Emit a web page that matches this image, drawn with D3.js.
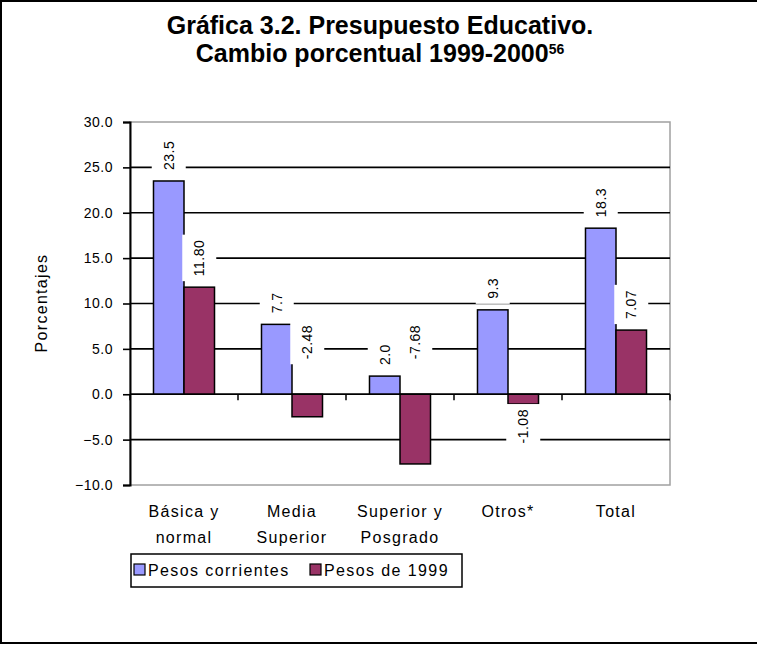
<!DOCTYPE html>
<html>
<head>
<meta charset="utf-8">
<script src="https://cdn.jsdelivr.net/npm/d3@7"></script>
<style>
  body { margin: 0; background: #fff; }
  svg { display: block; }
  text { font-family: "Liberation Sans", Arial, sans-serif; fill: #000; }
</style>
</head>
<body>
<div id="chart"></div>
<script>
// Chart data
var categories = [["Básica y", "normal"], ["Media", "Superior"], ["Superior y", "Posgrado"], ["Otros*"], ["Total"]];
var seriesNames = ["Pesos corrientes", "Pesos de 1999"];
var pesosCorrientes = [23.5, 7.7, 2.0, 9.3, 18.3];
var pesos1999 = [11.80, -2.48, -7.68, -1.08, 7.07];
var labelsCorrientes = ["23.5", "7.7", "2.0", "9.3", "18.3"];
var labels1999 = ["11.80", "-2.48", "-7.68", "-1.08", "7.07"];
var yTicks = [-10, -5, 0, 5, 10, 15, 20, 25, 30];

// Where the value labels sit: "out" = past the bar end, "up" = above the zero line
var placeCorrientes = ["out", "out", "out", "out", "out"];
var place1999 = ["out", "up", "up", "out", "out"];

var colors = ["#9999ff", "#993366"];

var W = 757, H = 645;
var plot = { left: 130, right: 670, top: 122, bottom: 485 };

var svg = d3.select("#chart").append("svg")
	.attr("width", W)
	.attr("height", H);

// Outer frame
svg.append("rect")
	.attr("x", 1).attr("y", 1)
	.attr("width", W + 10).attr("height", 642)
	.attr("fill", "none")
	.attr("stroke", "#000")
	.attr("stroke-width", 2);

// Title
var title = svg.append("text")
	.attr("text-anchor", "middle")
	.style("font-weight", "bold")
	.style("font-size", "25px");
title.append("tspan").attr("x", 380).attr("y", 34).text("Gráfica 3.2. Presupuesto Educativo.");
title.append("tspan").attr("x", 380).attr("y", 62).text("Cambio porcentual 1999-2000");
title.append("tspan").attr("dy", -8).style("font-size", "14px").text("56");

// Scales
var x0 = d3.scaleBand()
	.domain(d3.range(categories.length))
	.range([plot.left, plot.right])
	.paddingInner(0.435)
	.paddingOuter(0.2175);

var x1 = d3.scaleBand()
	.domain([0, 1])
	.range([0, x0.bandwidth()]);

var y = d3.scaleLinear()
	.domain([-10, 30])
	.range([plot.bottom, plot.top]);

// Plot frame (grey)
svg.append("rect")
	.attr("x", plot.left).attr("y", plot.top)
	.attr("width", plot.right - plot.left)
	.attr("height", plot.bottom - plot.top)
	.attr("fill", "none")
	.attr("stroke", "#a0a0a0")
	.attr("stroke-width", 1.5);

// Gridlines
svg.append("g")
	.selectAll("line")
	.data(yTicks.filter(function(d) { return d > -10 && d < 30; }))
	.enter().append("line")
		.attr("x1", plot.left).attr("x2", plot.right)
		.attr("y1", function(d) { return y(d); })
		.attr("y2", function(d) { return y(d); })
		.attr("stroke", "#000")
		.attr("stroke-width", 1.6);

// Y axis
var yAxis = svg.append("g")
	.attr("transform", "translate(" + plot.left + ",0)")
	.call(d3.axisLeft(y).tickValues(yTicks).tickSize(7).tickPadding(10)
		.tickFormat(d3.format(".1f")));
yAxis.select(".domain").attr("stroke", "#000").attr("stroke-width", 2);
yAxis.selectAll(".tick line").attr("stroke", "#000").attr("stroke-width", 1.6);
yAxis.selectAll("text")
	.attr("font-family", null)
	.attr("font-size", null)
	.style("font-size", "14px")
	.style("letter-spacing", "0.5px")
	.attr("fill", "#000");

// Y axis title
svg.append("text")
	.attr("transform", "translate(47,303) rotate(-90)")
	.attr("text-anchor", "middle")
	.style("font-size", "16px")
	.style("letter-spacing", "1.3px")
	.text("Porcentajes");

// Category ticks on zero line
svg.append("g")
	.selectAll("line")
	.data(d3.range(categories.length + 1))
	.enter().append("line")
		.attr("x1", function(i) { return plot.left + i * x0.step(); })
		.attr("x2", function(i) { return plot.left + i * x0.step(); })
		.attr("y1", y(0)).attr("y2", y(0) + 6)
		.attr("stroke", "#000")
		.attr("stroke-width", 1.5);

// Bars
var series = [pesosCorrientes, pesos1999];
var labels = [labelsCorrientes, labels1999];
var places = [placeCorrientes, place1999];

var barData = [];
series.forEach(function(vals, s) {
	vals.forEach(function(v, i) {
		barData.push({ s: s, i: i, v: v, label: labels[s][i], place: places[s][i] });
	});
});

svg.append("g")
	.selectAll("rect")
	.data(barData)
	.enter().append("rect")
		.attr("x", function(d) { return x0(d.i) + x1(d.s); })
		.attr("y", function(d) { return y(Math.max(0, d.v)); })
		.attr("width", x1.bandwidth())
		.attr("height", function(d) { return Math.abs(y(d.v) - y(0)); })
		.attr("fill", function(d) { return colors[d.s]; })
		.attr("stroke", "#000")
		.attr("stroke-width", 1.5);

// Zero line on top
svg.append("line")
	.attr("x1", plot.left).attr("x2", plot.right)
	.attr("y1", y(0)).attr("y2", y(0))
	.attr("stroke", "#000")
	.attr("stroke-width", 1.6);

// Value labels (rotated, on white boxes)
var labelG = svg.append("g");
barData.forEach(function(d) {
	var cx = x0(d.i) + x1(d.s) + x1.bandwidth() / 2;
	var g = labelG.append("g");
	var box = g.append("rect").attr("fill", "#fff");
	var t = g.append("text")
		.style("font-size", "14px")
		.style("letter-spacing", "0.5px")
		.attr("dy", "0.36em")
		.text(d.label);
	var len = t.node().getComputedTextLength();
	var yStart, yEnd; // yStart = bottom of rotated text, yEnd = top
	if (d.v >= 0) {
		yStart = y(d.v) - 11;
		yEnd = yStart - len;
	} else if (d.place === "up") {
		yStart = y(0) - 35;
		yEnd = yStart - len;
	} else {
		yEnd = y(d.v) + 5;
		yStart = yEnd + len;
	}
	t.attr("transform", "translate(" + cx + "," + yStart + ") rotate(-90)");
	box.attr("x", cx - 17)
		.attr("width", 34)
		.attr("y", yEnd - 5)
		.attr("height", len + 10);
});

// X labels
svg.append("g")
	.selectAll("text")
	.data(categories)
	.enter().append("text")
		.attr("text-anchor", "middle")
		.style("font-size", "16px")
		.style("letter-spacing", "1.3px")
		.each(function(lines, i) {
			var t = d3.select(this);
			lines.forEach(function(line, k) {
				t.append("tspan")
					.attr("x", x0(i) + x0.bandwidth() / 2)
					.attr("y", 517 + k * 26)
					.text(line);
			});
		});

// Legend
var legend = svg.append("g");
legend.append("rect")
	.attr("x", 131).attr("y", 554)
	.attr("width", 331).attr("height", 33)
	.attr("fill", "#fff")
	.attr("stroke", "#000")
	.attr("stroke-width", 1.5);
var legendX = [134, 310];
seriesNames.forEach(function(name, s) {
	legend.append("rect")
		.attr("x", legendX[s]).attr("y", 564)
		.attr("width", 11).attr("height", 11)
		.attr("fill", colors[s])
		.attr("stroke", "#000")
		.attr("stroke-width", 1.2);
	legend.append("text")
		.attr("x", legendX[s] + 14).attr("y", 576)
		.style("font-size", "16px")
		.style("letter-spacing", "1.4px")
		.text(name);
});
</script>
</body>
</html>
